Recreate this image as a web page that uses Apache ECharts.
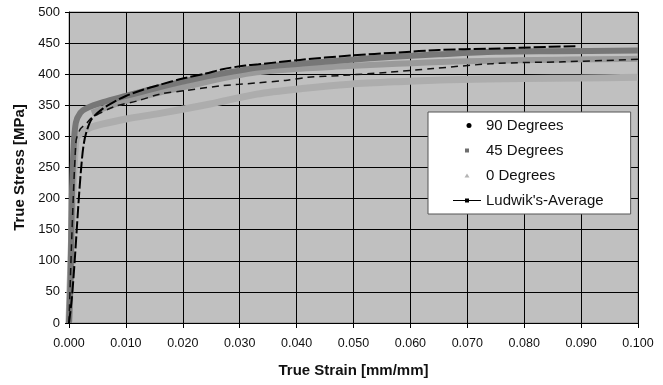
<!DOCTYPE html>
<html>
<head>
<meta charset="utf-8">
<script src="https://cdn.jsdelivr.net/npm/echarts@6/dist/echarts.min.js"></script>
<style>
  html, body { margin: 0; padding: 0; background: #fff; }
  #chart { width: 663px; height: 385px; }
</style>
</head>
<body>
<div id="chart"></div>
<script>
// [strain, stress] pairs
var deg90 = [[0,0],[0.0005,40],[0.001,100],[0.0017,197],[0.0021,245],[0.0025,282],[0.003,305],[0.004,328],[0.006,345],[0.008,356],[0.010,365],[0.013,375],[0.016,383],[0.020,393],[0.024,401],[0.027,408],[0.031,414],[0.0333,416],[0.0406,423],[0.0494,430],[0.058,435],[0.065,439],[0.074,441],[0.0845,444],[0.089,445]];
var deg45 = [[0,0],[0.0003,80],[0.0005,200],[0.0008,280],[0.0012,322],[0.002,338],[0.003,345],[0.006,355],[0.010,365],[0.015,377],[0.020,388],[0.025,398],[0.0336,411],[0.041,417],[0.049,423],[0.057,428],[0.065,432],[0.075,436],[0.085,437],[0.1,438]];
var deg45Low = [[0.004,338],[0.010,357],[0.020,379],[0.033,403],[0.049,413],[0.070,421],[0.1,425]];
var deg0 = [[0,0],[0.0004,120],[0.0008,230],[0.0011,280],[0.00135,298],[0.0025,308],[0.0037,314],[0.006,320],[0.010,328],[0.016,337],[0.0248,352],[0.033,368],[0.041,377],[0.0494,384],[0.058,388],[0.067,391],[0.080,393],[0.090,394],[0.1,395]];
var ludwik = [[0,0],[0.0012,290],[0.002,312],[0.003,320],[0.004,330],[0.008,348],[0.012,357],[0.016,368],[0.0207,374],[0.0265,381],[0.033,386],[0.038,390],[0.042,395],[0.048,398],[0.056,403],[0.064,409],[0.0745,417],[0.087,420],[0.094,422],[0.1,424]];

var font = 'Liberation Sans, Arial, sans-serif';
var chart = echarts.init(document.getElementById('chart'));

chart.setOption({
  animation: false,
  grid: {left: 69, right: 25, top: 12, bottom: 62, show: true,
         backgroundColor: '#c0c0c0', borderColor: '#8a8a8a', borderWidth: 1},
  legend: {
    orient: 'vertical', left: 428, top: 112,
    padding: [6, 27, 6, 25], itemGap: 10, itemWidth: 28, itemHeight: 10,
    backgroundColor: '#fff', borderColor: '#555', borderWidth: 1,
    textStyle: {fontFamily: font, fontSize: 15, color: '#111', lineHeight: 15},
    data: [
      {name: '90 Degrees', icon: 'path://M0,0M28,10M13.5,5a2.5,2.5 0 1,0 5,0a2.5,2.5 0 1,0 -5,0Z',
       itemStyle: {color: '#000', borderWidth: 0}},
      {name: '45 Degrees', icon: 'path://M0,0M28,10M12,3H16V7H12Z',
       itemStyle: {color: '#6e6e6e', borderWidth: 0}},
      {name: '0 Degrees', icon: 'path://M0,0M28,10M14,3L16.5,7H11.5Z',
       itemStyle: {color: '#b4b4b4', borderWidth: 0}},
      {name: "Ludwik's-Average", icon: 'path://M0,0M28,10M0,4.5H28V5.5H0ZM12,3H16V7H12Z',
       itemStyle: {color: '#000', borderWidth: 0}}
    ]
  },
  xAxis: {
    type: 'value', min: 0, max: 0.1, interval: 0.01,
    name: 'True Strain [mm/mm]', nameLocation: 'middle', nameGap: 40,
    nameTextStyle: {fontFamily: font, fontSize: 15, fontWeight: 'bold', color: '#111'},
    axisLine: {lineStyle: {color: '#000', width: 1}},
    axisTick: {show: true, length: 5, lineStyle: {color: '#000'}},
    axisLabel: {fontFamily: font, fontSize: 12.5, color: '#111', margin: 14,
                formatter: function (v) { return v.toFixed(3); }},
    splitLine: {show: true, lineStyle: {color: '#000', width: 1}}
  },
  yAxis: {
    type: 'value', min: 0, max: 500, interval: 50,
    name: 'True Stress [MPa]', nameLocation: 'middle', nameGap: 41,
    nameTextStyle: {fontFamily: font, fontSize: 15, fontWeight: 'bold', color: '#111'},
    axisLine: {show: true, lineStyle: {color: '#000', width: 1}},
    axisTick: {show: true, length: 4, lineStyle: {color: '#000'}},
    axisLabel: {fontFamily: font, fontSize: 13, color: '#111', margin: 9},
    splitLine: {show: true, lineStyle: {color: '#000', width: 1}}
  },
  series: [
    {name: '0 Degrees', type: 'line', data: deg0, smooth: 0.3, showSymbol: false,
     color: '#b4b4b4', lineStyle: {color: '#adadad', width: 7}},
    {name: '45 Degrees', type: 'line', data: deg45Low, smooth: 0.3, showSymbol: false,
     color: '#9a9a9a', lineStyle: {color: '#9a9a9a', width: 6}},
    {name: '45 Degrees', type: 'line', data: deg45, smooth: 0.3, showSymbol: false,
     color: '#6e6e6e', lineStyle: {color: '#777', width: 6}},
    {name: "Ludwik's-Average", type: 'line', data: ludwik, smooth: 0.3, showSymbol: false,
     color: '#000', lineStyle: {color: '#111', width: 1.5, type: [7, 5]}},
    {name: '90 Degrees', type: 'line', data: deg90, smooth: 0.3, showSymbol: false,
     color: '#000', lineStyle: {color: '#000', width: 2, type: [12, 3]}}
  ]
});
</script>
</body>
</html>
